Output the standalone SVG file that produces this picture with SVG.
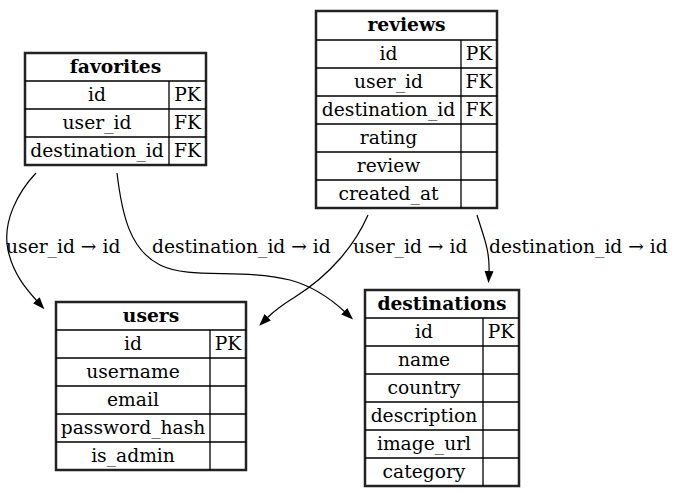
<svg xmlns="http://www.w3.org/2000/svg" width="674" height="497" viewBox="0 0 674 497">
<defs>
<style>
text{font-family:"DejaVu Serif","Liberation Serif",serif;font-size:18.7px;fill:#000;text-anchor:middle}
.h{font-weight:bold;font-size:18.7px}
.o{fill:#fff;stroke:#222;stroke-width:2.5}
.l{stroke:#000;stroke-width:1.3;fill:none}
.e{stroke:#000;stroke-width:1.2;fill:none;marker-end:url(#a)}
.lb{text-anchor:start}
</style>
<marker id="a" markerWidth="12" markerHeight="10" refX="1" refY="5" orient="auto" markerUnits="userSpaceOnUse">
<path d="M0,0.5 L12,5 L0,9.5 Z" fill="#000"/>
</marker>
</defs>
<rect width="674" height="497" fill="#fff"/>
<g id="connectors">
<path class="e" d="M36,173 C18,192 2,222 8,250 C13,274 27,290 37,301"/>
<text class="lb" x="6" y="253">user_id → id</text>
<path class="e" d="M117,173 C122,215 130,250 160,265 C190,280 240,268 290,280 C312,286 330,298 345,312"/>
<text class="lb" x="152" y="253">destination_id → id</text>
<path class="e" d="M368,215 C355,245 330,275 295,297 C282,305 274,311 267,318"/>
<text class="lb" x="353" y="253">user_id → id</text>
<path class="e" d="M477,215 C483,235 490,250 489,272"/>
<text class="lb" x="489" y="253">destination_id → id</text>
</g>
<g id="favorites">
<rect class="o" x="25" y="53" width="181" height="112"/>
<path class="l" d="M25,81H206M25,109H206M25,137H206M169,81V165"/>
<text class="h" x="115.5" y="73">favorites</text>
<text x="97" y="101">id</text><text x="187.5" y="101">PK</text>
<text x="97" y="129">user_id</text><text x="187.5" y="129">FK</text>
<text x="97" y="157">destination_id</text><text x="187.5" y="157">FK</text>
</g>
<g id="reviews">
<rect class="o" x="316" y="11" width="181" height="197"/>
<path class="l" d="M316,40H497M316,68H497M316,96H497M316,124H497M316,152H497M316,180H497M461,40V208"/>
<text class="h" x="406.5" y="31">reviews</text>
<text x="388.5" y="60">id</text><text x="479" y="60">PK</text>
<text x="388.5" y="88">user_id</text><text x="479" y="88">FK</text>
<text x="388.5" y="116">destination_id</text><text x="479" y="116">FK</text>
<text x="388.5" y="144">rating</text>
<text x="388.5" y="172">review</text>
<text x="388.5" y="200">created_at</text>
</g>
<g id="users">
<rect class="o" x="56" y="302" width="190" height="168"/>
<path class="l" d="M56,330H246M56,358H246M56,386H246M56,414H246M56,442H246M210,330V470"/>
<text class="h" x="151" y="322">users</text>
<text x="133" y="350">id</text><text x="228" y="350">PK</text>
<text x="133" y="378">username</text>
<text x="133" y="406">email</text>
<text x="133" y="434">password_hash</text>
<text x="133" y="462">is_admin</text>
</g>
<g id="destinations">
<rect class="o" x="365" y="290" width="154" height="196"/>
<path class="l" d="M365,318H519M365,346H519M365,374H519M365,402H519M365,430H519M365,458H519M483,318V486"/>
<text class="h" x="442" y="310">destinations</text>
<text x="424" y="338">id</text><text x="501" y="338">PK</text>
<text x="424" y="366">name</text>
<text x="424" y="394">country</text>
<text x="424" y="422">description</text>
<text x="424" y="450">image_url</text>
<text x="424" y="478">category</text>
</g>
</svg>
